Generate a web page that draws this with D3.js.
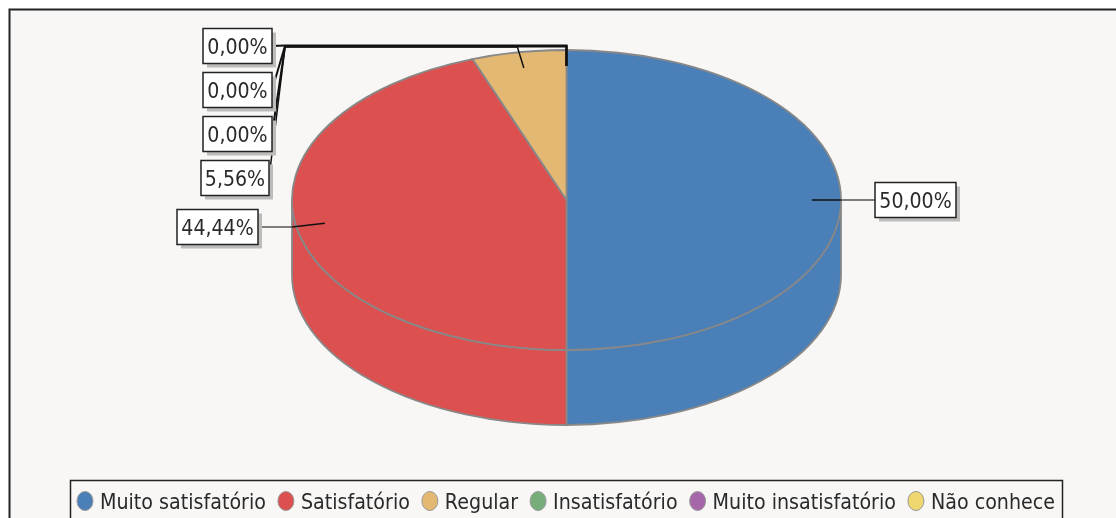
<!DOCTYPE html>
<html>
<head>
    <meta charset="utf-8" />
    <title></title>
    <script src="https://cdn.jsdelivr.net/npm/d3@7"></script>
    <style>
        html, body { margin: 0; padding: 0; background: #fff; overflow: hidden; }
        svg { filter: blur(0.5px); }
        text { font-family: "DejaVu Sans", sans-serif; fill: #2a2a2a; }
    </style>
</head>
<body>
    <svg class="chart" width="1116" height="518"></svg>

    <script>
    var categories = ["Muito satisfatório", "Satisfatório", "Regular", "Insatisfatório", "Muito insatisfatório", "Não conhece"];
    var values = [50.00, 44.44, 5.56, 0.00, 0.00, 0.00];
    var colors = ["#4a7fb7", "#dd5050", "#e2b873", "#76ad78", "#a567aa", "#eed76e"];

    var cx = 566.5, cy = 200, rx = 274.5, ry = 150, depth = 75;
    var textStretch = 1.14; // the picture's text is taller than it is wide

    var svg = d3.select(".chart");
    // frame runs off the right and bottom of the picture
    svg.append("rect").attr("x", 9.5).attr("y", 9.5).attr("width", 1130).attr("height", 530)
        .attr("fill", "#f8f7f6").attr("stroke", "#222").attr("stroke-width", 2);

    var slices = d3.pie().sort(null)(values);

    // angle is clockwise from the top, like d3.pie
    function px(a, r) { return cx + Math.sin(a) * rx * r; }
    function py(a, r) { return cy - Math.cos(a) * ry * r; }

    function arcTo(a0, a1, dy, sweep) {
        var large = Math.abs(a1 - a0) > Math.PI ? 1 : 0;
        return "A" + rx + "," + ry + " 0 " + large + " " + sweep + " " + px(a1, 1) + "," + (py(a1, 1) + dy);
    }

    // side wall, only the part facing us (pi/2 to 3pi/2)
    function wallPath(d) {
        var a0 = Math.max(d.startAngle, Math.PI / 2), a1 = Math.min(d.endAngle, Math.PI * 1.5);
        if (a1 <= a0) return null;
        return "M" + px(a0, 1) + "," + py(a0, 1) + arcTo(a0, a1, 0, 1)
            + "L" + px(a1, 1) + "," + (py(a1, 1) + depth) + arcTo(a1, a0, depth, 0) + "Z";
    }

    function topPath(d) {
        return "M" + cx + "," + cy + "L" + px(d.startAngle, 1) + "," + py(d.startAngle, 1)
            + arcTo(d.startAngle, d.endAngle, 0, 1) + "Z";
    }

    var shown = slices.filter(function (d) { return d.value > 0; });

    svg.append("g").selectAll("path")
        .data(shown.filter(wallPath))
        .enter().append("path")
        .attr("d", wallPath)
        .attr("fill", function (d) { return colors[d.index]; })
        .attr("stroke", "#888").attr("stroke-width", 1.8);

    svg.append("g").selectAll("path")
        .data(shown)
        .enter().append("path")
        .attr("d", topPath)
        .attr("fill", function (d) { return colors[d.index]; })
        .attr("stroke", "#888").attr("stroke-width", 1.8);

    // label boxes: left edge, centre y, width, and the point where the leader bends
    var labelBoxes = [
        { x: 875, y: 200, w: 81, bend: null },
        { x: 177, y: 227, w: 81, bend: null },
        { x: 201, y: 178, w: 68, bend: [285, 47] },
        { x: 203, y: 134, w: 69, bend: [285, 46.5] },
        { x: 203, y: 90, w: 69, bend: [285, 46] },
        { x: 203, y: 46, w: 69, bend: [285, 45.5] }
    ];
    var boxH = 35, leaderIn = 0.894;

    function fmt(v) { return v.toFixed(2).replace(".", ",") + "%"; }

    var leaders = svg.append("g").attr("fill", "none");
    slices.forEach(function (d, i) {
        var mid = (d.startAngle + d.endAngle) / 2;
        var b = labelBoxes[i];
        var x0 = px(mid, leaderIn), y0 = py(mid, leaderIn);
        var right = b.x > cx;
        var xEnd = right ? b.x : b.x + b.w;
        if (b.bend) {
            leaders.append("path")
                .attr("d", d3.line()([[x0, y0], [px(mid, 1.03), b.bend[1]], b.bend, [xEnd, b.y]]))
                .attr("stroke", "#111").attr("stroke-width", d.value > 0 ? 1.5 : 2);
        } else {
            // thin grey outside the pie, black over the slice
            var edge = right ? cx + rx : cx - rx;
            leaders.append("path")
                .attr("d", d3.line()([[edge, b.y], [xEnd, b.y]]))
                .attr("stroke", "#555").attr("stroke-width", 1.5);
            leaders.append("path")
                .attr("d", d3.line()([[x0, y0], [edge, b.y]]))
                .attr("stroke", "#111").attr("stroke-width", 1.5);
        }
    });

    var label = svg.append("g").selectAll("g")
        .data(slices)
        .enter().append("g")
        .attr("transform", function (d, i) { return "translate(" + labelBoxes[i].x + "," + (labelBoxes[i].y - boxH / 2) + ")"; });
    label.append("rect").attr("x", 4).attr("y", 4)
        .attr("width", function (d, i) { return labelBoxes[i].w; }).attr("height", boxH)
        .attr("fill", "#bdbcbb");
    label.append("rect")
        .attr("width", function (d, i) { return labelBoxes[i].w; }).attr("height", boxH)
        .attr("fill", "#fff").attr("stroke", "#222").attr("stroke-width", 1.5);
    label.append("text")
        .attr("transform", function (d, i) { return "translate(" + labelBoxes[i].w / 2 + "," + boxH / 2 + ") scale(1," + textStretch + ")"; })
        .attr("dy", ".35em")
        .attr("text-anchor", "middle").attr("font-size", 19)
        .text(function (d) { return fmt(d.value); });

    // legend, clipped by the bottom of the picture
    var legend = svg.append("g");
    legend.append("rect").attr("x", 70.5).attr("y", 480.5).attr("width", 992).attr("height", 60)
        .attr("fill", "none").attr("stroke", "#222").attr("stroke-width", 1.5);
    var legendFont = 19.1, lx = 77;
    categories.forEach(function (c, i) {
        legend.append("ellipse").attr("cx", lx + 8).attr("cy", 501).attr("rx", 8).attr("ry", 9.5)
            .attr("fill", colors[i]).attr("stroke", "#999").attr("stroke-width", 1);
        var t = legend.append("text")
            .attr("transform", "translate(" + (lx + 23) + ",501) scale(1," + textStretch + ")")
            .attr("dy", ".35em")
            .attr("font-size", legendFont).text(c);
        lx += 23 + t.node().getComputedTextLength() + 12;
    });
    </script>
</body>
</html>
